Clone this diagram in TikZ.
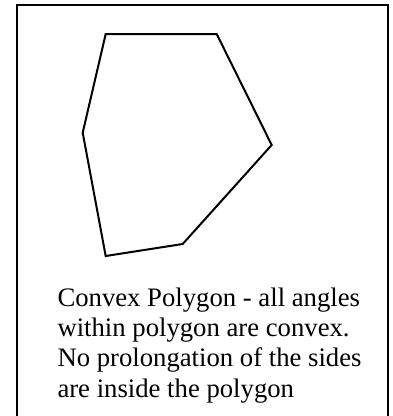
\documentclass[tikz,border=0pt]{standalone}
\usepackage{fontspec}
\setmainfont{Liberation Serif}

\begin{document}
\begin{tikzpicture}[x=1pt, y=-1pt, line width=2pt, line join=miter]
  \useasboundingbox (0,0) rectangle (393,416);
  % frame, open at the bottom
  \coordinate (fbl) at (17,417);
  \coordinate (ftl) at (17,5);
  \coordinate (ftr) at (388,5);
  \coordinate (fbr) at (388,417);
  \draw[line width=2.3pt] (fbl) -- (ftl) -- (ftr) -- (fbr);
  % corners of the polygon
  \coordinate (p1) at (105.7,34);
  \coordinate (p2) at (216.7,34);
  \coordinate (p3) at (271.7,145);
  \coordinate (p4) at (182.7,244);
  \coordinate (p5) at (105.7,256);
  \coordinate (p6) at (82.7,132.7);
  \draw (p1) -- (p2) -- (p3) -- (p4) -- (p5) -- (p6) -- cycle;
  % caption (base anchor sits on the last line)
  \node[anchor=base west, align=left, inner sep=0pt, font=\fontsize{26.7}{30.1}\selectfont] (cap) at (56.5,397)
    {Convex Polygon - all angles\\within polygon are convex.\\No prolongation of the sides\\are inside the polygon};
\end{tikzpicture}
\end{document}
